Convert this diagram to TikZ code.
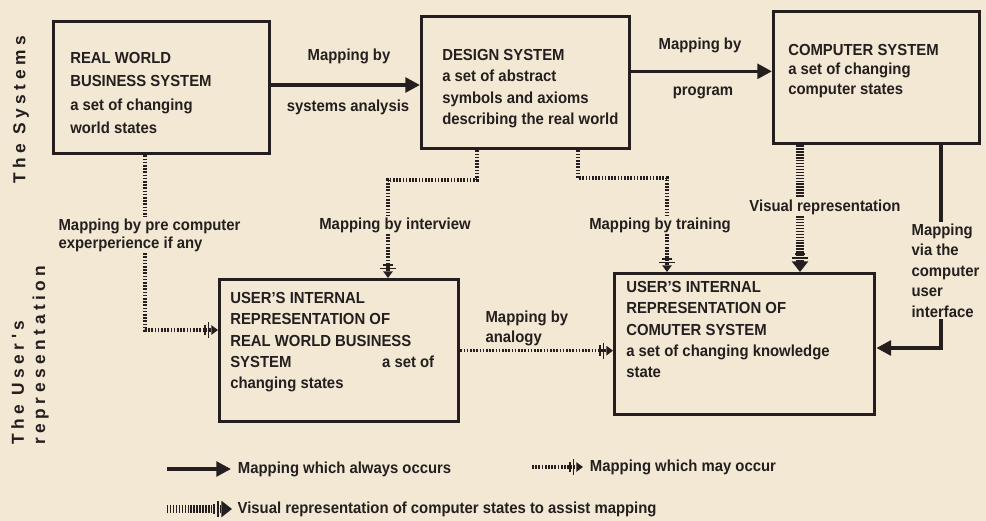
\documentclass[tikz,border=0pt]{standalone}
\usepackage{fontspec}
\setmainfont{Liberation Sans}[FakeStretch=0.93]
\newfontfamily\sidefont[LetterSpace=26]{Liberation Sans}
\usetikzlibrary{arrows.meta}

\definecolor{paper}{RGB}{242,232,212}
\definecolor{ink}{RGB}{36,31,30}

\tikzset{
  sysbox/.style={draw=ink, line width=2.5pt, anchor=north west, inner sep=0pt},
  boxtext/.style={anchor=north west, align=left, inner sep=0pt},
  lbl/.style={inner sep=1pt, align=left, font=\bfseries\fontsize{12}{13.5}\selectfont},
  sidelbl/.style={rotate=90, align=left, font=\sidefont\bfseries\fontsize{13}{16}\selectfont},
  always/.style={draw=ink, line width=2.6pt, -{Triangle[length=11pt,width=11pt]}},
  mayocc/.style={draw=ink, line width=2.3pt, dash pattern=on 1.3pt off 1.1pt},
  vistrack/.style={draw=ink, line width=6pt, dash pattern=on 1.1pt off 1.1pt},
  maytip/.tip={Bar[width=8pt,line width=1.2pt,sep=1.4pt] Bar[width=12pt,line width=1.2pt,sep=1.4pt] Triangle[length=5pt,width=7pt]},
  vistip/.tip={Bar[width=8pt,line width=1.5pt,sep=1.6pt] Bar[width=12pt,line width=1.5pt,sep=1.4pt] Triangle[length=8pt,width=12pt]},
}

\begin{document}
\begin{tikzpicture}[x=0.75pt, y=-0.75pt, color=ink, text=ink, font=\bfseries\fontsize{12}{16}\selectfont]

\fill [paper] (0,0) rectangle (986,521);

\node [sidelbl] (sysside) at (21,110) {The Systems};
\node [sidelbl] (userside) at (30,355) {The User's\\representation};

% the systems
\node [sysbox, minimum width=162pt, minimum height=99pt] (rw) at (52,20) {};
\node [boxtext, font=\bfseries\fontsize{12}{17.5}\selectfont] (rwtxt) at (70,52)
  {REAL WORLD\\BUSINESS SYSTEM\\a set of changing\\world states};

\node [sysbox, minimum width=156pt, minimum height=99pt] (ds) at (420,15) {};
\node [boxtext] (dstxt) at (442,49)
  {DESIGN SYSTEM\\a set of abstract\\symbols and axioms\\describing the real world};

\node [sysbox, minimum width=154.5pt, minimum height=99pt] (cs) at (772,10) {};
\node [boxtext, font=\bfseries\fontsize{12}{14.5}\selectfont] (cstxt) at (788,44)
  {COMPUTER SYSTEM\\a set of changing\\computer states};

% the user's representation
\node [sysbox, minimum width=179.25pt, minimum height=106.5pt] (urw) at (218,278) {};
\node [boxtext] (urwtxt) at (230,292)
  {USER'S INTERNAL\\REPRESENTATION OF\\REAL WORLD BUSINESS\\SYSTEM\hspace{68pt}a set of\\changing states};

\node [sysbox, minimum width=195pt, minimum height=105.75pt] (ucs) at (613,272) {};
\node [boxtext] (ucstxt) at (626,281)
  {USER'S INTERNAL\\REPRESENTATION OF\\COMUTER SYSTEM\\a set of changing knowledge\\state};

% labels
\node [lbl] (satop) at (349,56) {Mapping by};
\node [lbl] (sabot) at (348,107) {systems analysis};
\node [lbl] (pgtop) at (700,45) {Mapping by};
\node [lbl] (pgbot) at (703,93) {program};
\node [lbl, anchor=north west] (pre) at (57,217) {Mapping by pre computer\\experperience if any};
\node [lbl] (iv) at (395,225) {Mapping by interview};
\node [lbl] (tr) at (660,225) {Mapping by training};
\node [lbl] (vr) at (825,207) {Visual representation};
\node [lbl, anchor=north west, font=\bfseries\fontsize{12}{15.4}\selectfont] (ui) at (910,222)
  {Mapping\\via the\\computer\\user\\interface};
\node [lbl, anchor=west, font=\bfseries\fontsize{12}{15}\selectfont] (anl) at (484,328) {Mapping by\\analogy};

% mappings which always occur
\draw [always] ([yshift=2pt]rw.east) -- ([yshift=2pt]rw.east -| ds.west);
\draw [always] ([yshift=8.5pt]ds.east) -- ([yshift=8.5pt]ds.east -| cs.west);

\coordinate (uibend) at (941,348);
\draw [draw=ink, line width=2.6pt] (cs.south -| uibend) -- (uibend |- ui.north);
\draw [always] (uibend |- ui.south) -- (uibend) -- (uibend -| ucs.east);

% mappings which may occur
\coordinate (prex) at (145,330);
\draw [mayocc] (rw.south -| prex) -- (prex |- pre.north);
\draw [mayocc, -{maytip}] (prex |- pre.south) -- (prex) -- (prex -| urw.west);

\coordinate (ivtop) at (477,180);
\coordinate (ivbend) at (388,180);
\draw [mayocc] (ds.south -| ivtop) -- (ivtop) -- (ivbend) -- (ivbend |- iv.north);
\draw [mayocc, -{maytip}] (ivbend |- iv.south) -- (ivbend |- urw.north);

\coordinate (trtop) at (578,178);
\coordinate (trbend) at (667,178);
\draw [mayocc] (ds.south -| trtop) -- (trtop) -- (trbend) -- (trbend |- tr.north);
\draw [mayocc, -{maytip}] (trbend |- tr.south) -- (trbend |- ucs.north);

\draw [mayocc, -{maytip}] (urw.east) -- (urw.east -| ucs.west);

% visual representation
\coordinate (vrx) at (800,160);
\draw [vistrack] (cs.south -| vrx) -- (vrx |- vr.north);
\draw [vistrack, -{vistip}] (vrx |- vr.south) -- (vrx |- ucs.north);

% key
\coordinate (keyalways) at (167,469);
\node [lbl, anchor=west, inner xsep=5pt] (lgalways) at (231,469) {Mapping which always occurs};
\draw [always] (keyalways) -- (lgalways.west);

\coordinate (keymay) at (532,467);
\node [lbl, anchor=west, inner xsep=5pt] (lgmay) at (583,467) {Mapping which may occur};
\draw [mayocc, -{maytip}] (keymay) -- (lgmay.west);

\coordinate (keyvis) at (167,509);
\node [lbl, anchor=west, inner xsep=4pt] (lgvis) at (232,509) {Visual representation of computer states to assist mapping};
\draw [vistrack, -{vistip}] (keyvis) -- (lgvis.west);

\end{tikzpicture}
\end{document}
